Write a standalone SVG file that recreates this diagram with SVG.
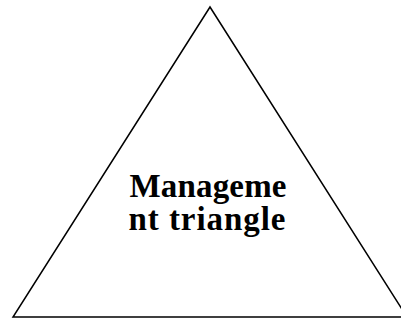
<svg xmlns="http://www.w3.org/2000/svg" width="401" height="322" viewBox="0 0 401 322">
<style>
.tri{fill:#fff;stroke:#000;stroke-width:1.5;stroke-linejoin:miter}
.lbl{font-family:"Liberation Serif","Times New Roman",serif;font-weight:bold;font-size:33px;fill:#000;text-anchor:middle}
</style>
<rect width="401" height="322" fill="#fff"/>
<g id="management-triangle">
<polygon class="tri" points="210,7 13,317 407,317"/>
<text class="lbl" x="208" y="197" textLength="157" lengthAdjust="spacing">Manageme</text>
<text class="lbl" x="207" y="230" textLength="157" lengthAdjust="spacing">nt triangle</text>
</g>
</svg>
